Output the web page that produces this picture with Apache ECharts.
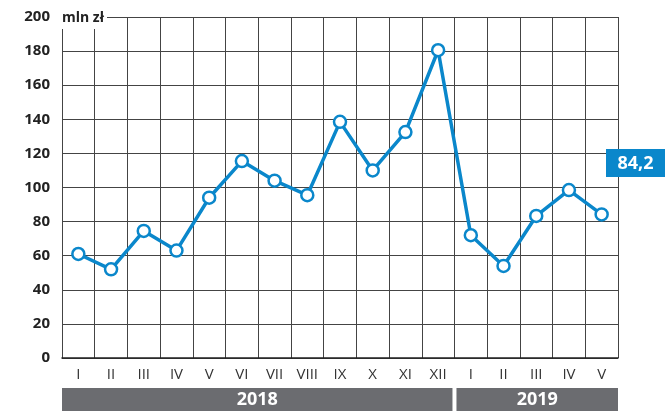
<!DOCTYPE html>
<html><head><meta charset="utf-8">
<script src="https://cdn.jsdelivr.net/npm/echarts@6/dist/echarts.min.js"></script>
<style>html,body{margin:0;padding:0;background:#fff}#c{width:665px;height:411px}</style>
</head><body><div id="c"></div>
<script>
const months = ['I','II','III','IV','V','VI','VII','VIII','IX','X','XI','XII','I','II','III','IV','V'];
const values = [61, 52, 74.5, 63, 94, 115.5, 104, 95.5, 138.5, 110, 132.5, 180.5, 72, 54, 83.3, 98.5, 84.2];
const years = [{label:'2018', from:0, to:11}, {label:'2019', from:12, to:16}];
const yTicks = [0,20,40,60,80,100,120,140,160,180,200];
const lastLabel = '84,2';
const blue = '#0a87cb';
const chart = echarts.init(document.getElementById('c'));
chart.setOption({
  animation:false,
  grid:{left:62, right:47, top:17, bottom:53},
  xAxis:{type:'category', data:months, boundaryGap:true,
    axisLine:{show:true, lineStyle:{color:'#222', width:1.5}},
    axisTick:{show:false},
    axisLabel:{color:'#333', fontSize:15, fontFamily:'Open Sans', margin:9, interval:0},
    splitLine:{show:true, interval:0, lineStyle:{color:'#444', width:1}}
  },
  yAxis:{type:'value', min:0, max:200, interval:20,
    axisLine:{show:true, lineStyle:{color:'#444', width:1}},
    axisTick:{show:false},
    axisLabel:{color:'#222', fontSize:15, fontWeight:'bold', fontFamily:'Open Sans', margin:12,
      formatter:v=>yTicks.includes(v)?String(v):''},
    splitLine:{show:true, lineStyle:{color:'#444', width:1}}
  },
  series:[{type:'line', data:values, symbol:'circle', symbolSize:12,
    lineStyle:{color:blue, width:3.5},
    itemStyle:{color:'#fff', borderColor:blue, borderWidth:2.5}, z:5}]
});
function drawExtras(){
  const g = [];
  const step = chart.convertToPixel({xAxisIndex:0}, 1) - chart.convertToPixel({xAxisIndex:0}, 0);
  years.forEach((y,i)=>{
    let x0 = chart.convertToPixel({xAxisIndex:0}, y.from) - step/2;
    let x1 = chart.convertToPixel({xAxisIndex:0}, y.to) + step/2;
    if(i>0) x0 += 2; if(i<years.length-1) x1 -= 2;
    g.push({type:'rect', shape:{x:x0, y:388, width:x1-x0, height:23}, style:{fill:'#6b6c70'}});
    g.push({type:'text', x:(x0+x1)/2, y:400, style:{text:y.label, fill:'#fff', font:'bold 18px "Open Sans"', align:'center', verticalAlign:'middle'}});
  });
  const y200 = chart.convertToPixel({yAxisIndex:0}, 200);
  g.push({type:'rect', shape:{x:58, y:y200-8, width:49, height:20}, style:{fill:'#fff'}, z:10});
  g.push({type:'text', x:62, y:y200+1, style:{text:'mln zł', fill:'#222', font:'bold 14px "Open Sans"', align:'left', verticalAlign:'middle'}, z:11});
  g.push({type:'rect', shape:{x:606, y:149, width:59, height:28}, style:{fill:blue}, z:10});
  g.push({type:'text', x:635.5, y:163.5, style:{text:lastLabel, fill:'#fff', font:'bold 18px "Open Sans"', align:'center', verticalAlign:'middle'}, z:11});
  chart.setOption({graphic:g});
}
drawExtras();
</script></body></html>
